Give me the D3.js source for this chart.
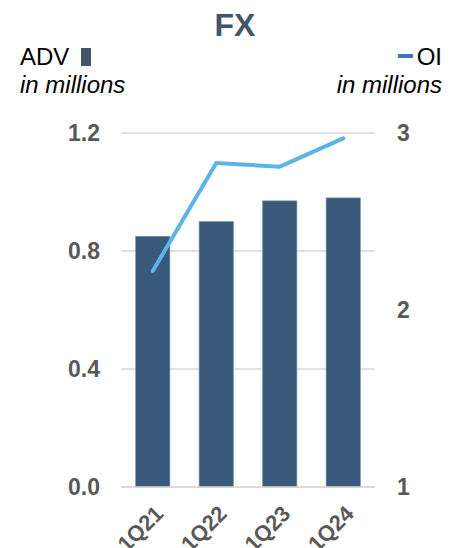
<!DOCTYPE html>
<html>
<head>
<meta charset="utf-8">
<script src="https://cdn.jsdelivr.net/npm/d3@7"></script>
<style>
  body { margin: 0; background: #fff; }
  svg { font-family: Arial, "Liberation Sans", sans-serif; }
</style>
</head>
<body>
<svg width="457" height="548"></svg>
<script>
// data
var quarters = ["1Q21", "1Q22", "1Q23", "1Q24"];
var adv = [0.85, 0.90, 0.97, 0.98];
var oi = [2.22, 2.83, 2.81, 2.97];
var advTicks = [0, 0.4, 0.8, 1.2];
var oiTicks = [1, 2, 3];

var svg = d3.select("svg");

var x = d3.scaleBand()
    .domain(quarters)
    .range([121, 375])
    .paddingInner(0.46)
    .paddingOuter(0.23);

var yL = d3.scaleLinear().domain([0, 1.2]).range([487, 133]);
var yR = d3.scaleLinear().domain([1, 3]).range([487, 133]);

// title + legend headers
svg.append("text")
    .attr("x", 235).attr("y", 36)
    .attr("text-anchor", "middle")
    .attr("font-size", 32).attr("font-weight", "bold")
    .attr("fill", "#44546a")
    .text("FX");

svg.append("text").attr("x", 20).attr("y", 65)
    .attr("font-size", 24).attr("fill", "#000").text("ADV");
svg.append("rect").attr("x", 81).attr("y", 48).attr("width", 10).attr("height", 18)
    .attr("fill", "#44546a");
svg.append("text").attr("x", 20).attr("y", 93)
    .attr("font-size", 24).attr("font-style", "italic").attr("fill", "#000").text("in millions");

svg.append("rect").attr("x", 398).attr("y", 54).attr("width", 15).attr("height", 4)
    .attr("fill", "#4472c4");
svg.append("text").attr("x", 442).attr("y", 65).attr("text-anchor", "end")
    .attr("font-size", 24).attr("fill", "#000").text("OI");
svg.append("text").attr("x", 442).attr("y", 93).attr("text-anchor", "end")
    .attr("font-size", 24).attr("font-style", "italic").attr("fill", "#000").text("in millions");

// gridlines
svg.append("g").selectAll("line")
    .data(advTicks)
    .enter().append("line")
    .attr("x1", 121).attr("x2", 375)
    .attr("y1", function(d) { return yL(d); })
    .attr("y2", function(d) { return yL(d); })
    .attr("stroke", "#d9d9d9").attr("stroke-width", 1.5);

// left axis
var left = svg.append("g")
    .attr("transform", "translate(113,0)")
    .call(d3.axisLeft(yL).tickValues(advTicks).tickFormat(d3.format(".1f")).tickSize(0).tickPadding(13));
left.select(".domain").remove();
left.selectAll("text")
    .attr("font-size", 23).attr("font-weight", "bold").attr("fill", "#595959")
    .attr("font-family", "Arial, 'Liberation Sans', sans-serif");

// right axis
var right = svg.append("g")
    .attr("transform", "translate(384,0)")
    .call(d3.axisRight(yR).tickValues(oiTicks).tickFormat(d3.format("d")).tickSize(0).tickPadding(13));
right.select(".domain").remove();
right.selectAll("text")
    .attr("font-size", 23).attr("font-weight", "bold").attr("fill", "#595959")
    .attr("font-family", "Arial, 'Liberation Sans', sans-serif");

// bars
svg.append("g").selectAll("rect")
    .data(adv)
    .enter().append("rect")
    .attr("x", function(d, i) { return x(quarters[i]); })
    .attr("y", function(d) { return yL(d); })
    .attr("width", x.bandwidth())
    .attr("height", function(d) { return yL(0) - yL(d); })
    .attr("fill", "#3a5a7c")
    .attr("stroke", "#7f93aa").attr("stroke-width", 0.6);

// baseline
svg.append("line")
    .attr("x1", 121).attr("x2", 375)
    .attr("y1", yL(0)).attr("y2", yL(0))
    .attr("stroke", "#d9d9d9").attr("stroke-width", 1.5);

// OI line
var line = d3.line()
    .x(function(d, i) { return x(quarters[i]) + x.bandwidth() / 2; })
    .y(function(d) { return yR(d); });

svg.append("path")
    .datum(oi)
    .attr("d", line)
    .attr("fill", "none")
    .attr("stroke", "#5ab4e5")
    .attr("stroke-width", 4)
    .attr("stroke-linecap", "round");

// x labels
var bottom = svg.append("g")
    .attr("transform", "translate(0," + 487 + ")")
    .call(d3.axisBottom(x).tickSize(0).tickPadding(0));
bottom.select(".domain").remove();
bottom.selectAll("text")
    .attr("font-size", 22).attr("font-weight", "bold").attr("fill", "#595959")
    .attr("font-family", "Arial, 'Liberation Sans', sans-serif")
    .attr("text-anchor", "end")
    .attr("dy", 0).attr("y", 0).attr("x", 0)
    .attr("transform", "translate(12,28) rotate(-45)");
</script>
</body>
</html>
